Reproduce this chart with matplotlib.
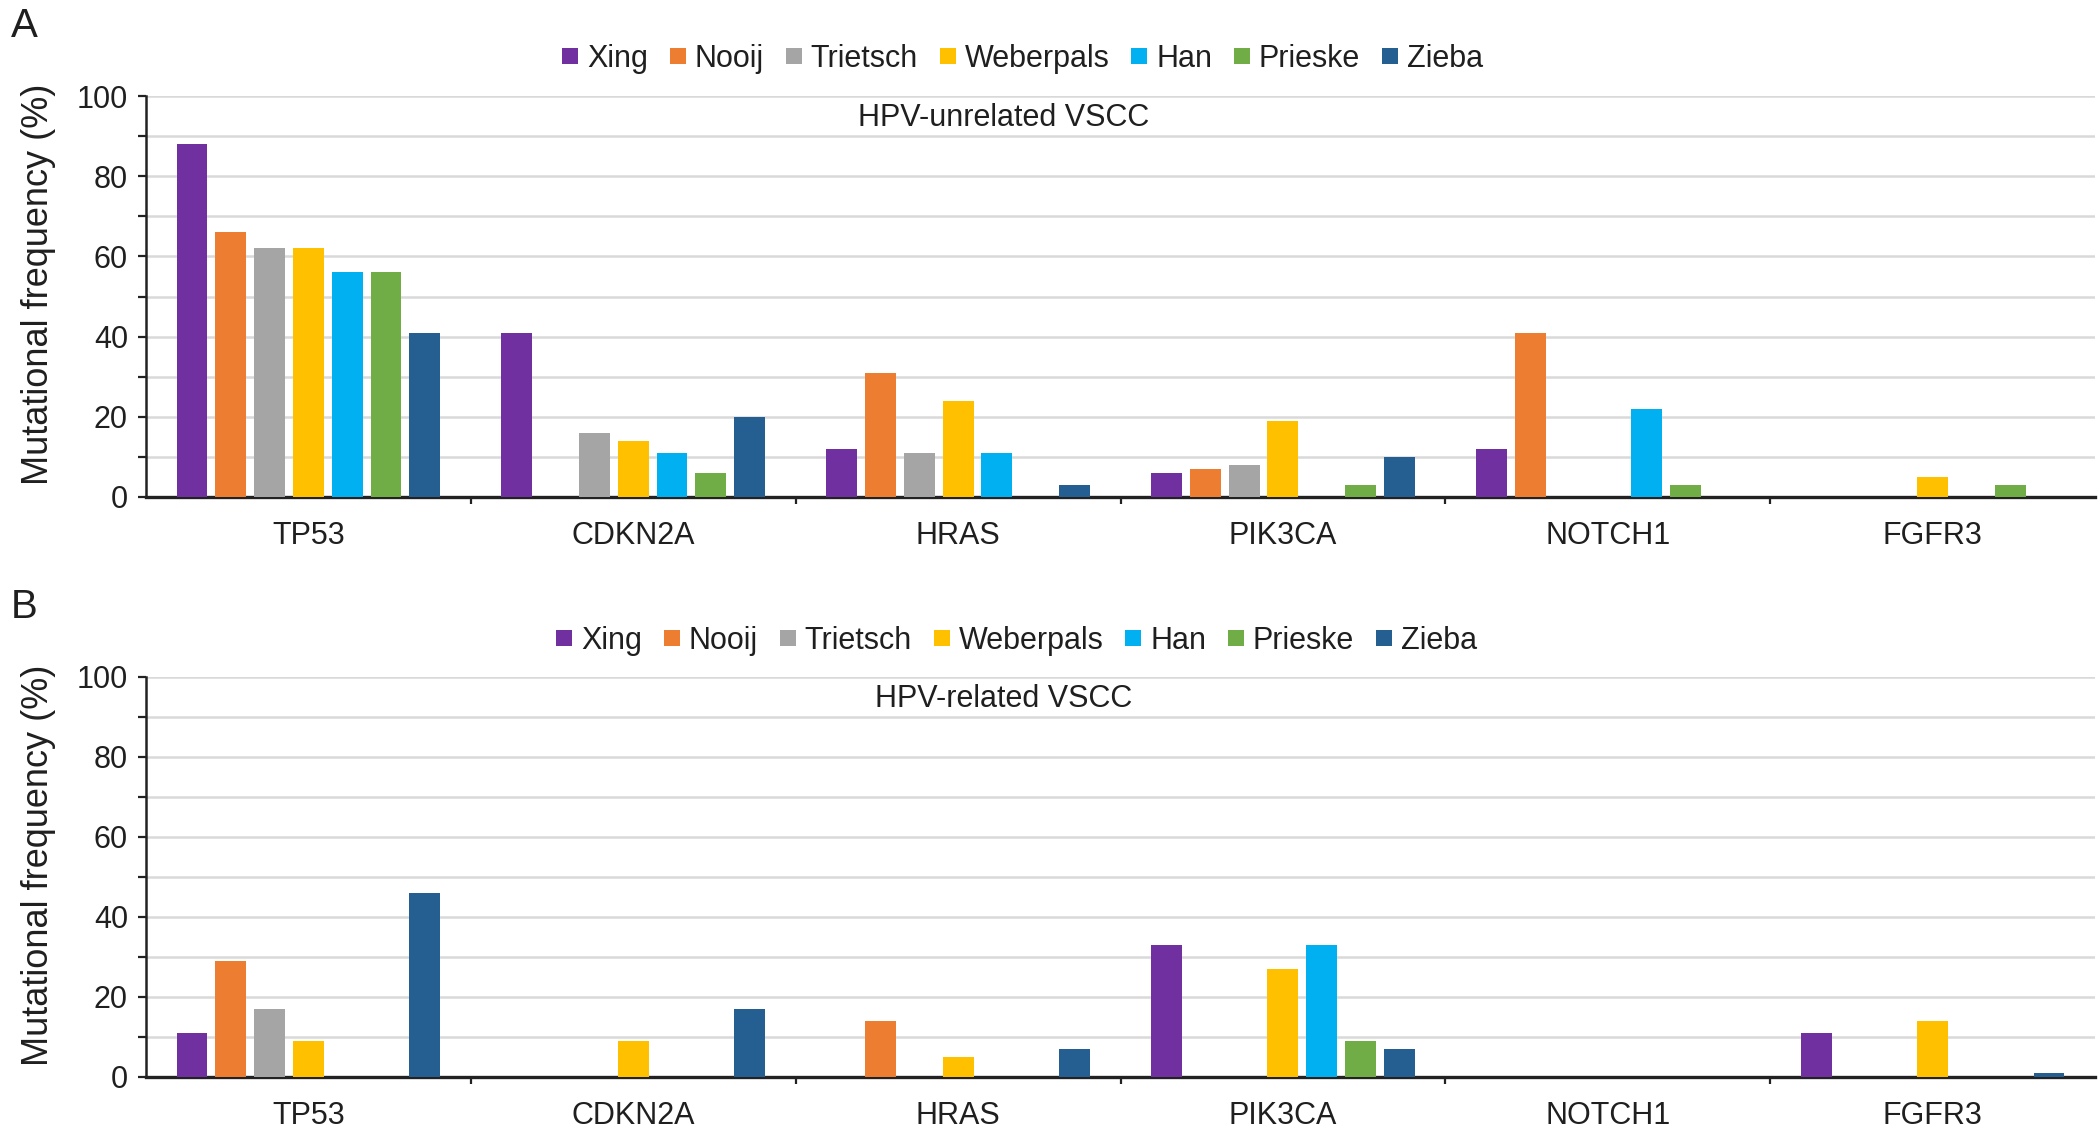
import matplotlib
matplotlib.use("Agg")
import matplotlib.pyplot as plt
from matplotlib.lines import Line2D
import numpy as np

plt.rcParams['font.family'] = ['Liberation Sans', 'DejaVu Sans']

genes = ["TP53", "CDKN2A", "HRAS", "PIK3CA", "NOTCH1", "FGFR3"]
studies = ["Xing", "Nooij", "Trietsch", "Weberpals", "Han", "Prieske", "Zieba"]
colors = ["#7030A0", "#ED7D31", "#A5A5A5", "#FFC000", "#00B0F0", "#70AD47", "#255E91"]

# Panel A: HPV-unrelated VSCC (one list per study, values per gene)
xing_a      = [88, 41, 12, 6, 12, 0]
nooij_a     = [66, 0, 31, 7, 41, 0]
trietsch_a  = [62, 16, 11, 8, 0, 0]
weberpals_a = [62, 14, 24, 19, 0, 5]
han_a       = [56, 11, 11, 0, 22, 0]
prieske_a   = [56, 6, 0, 3, 3, 3]
zieba_a     = [41, 20, 3, 10, 0, 0]

# Panel B: HPV-related VSCC
xing_b      = [11, 0, 0, 33, 0, 11]
nooij_b     = [29, 0, 14, 0, 0, 0]
trietsch_b  = [17, 0, 0, 0, 0, 0]
weberpals_b = [9, 9, 5, 27, 0, 14]
han_b       = [0, 0, 0, 33, 0, 0]
prieske_b   = [0, 0, 0, 9, 0, 0]
zieba_b     = [46, 17, 7, 7, 0, 1]

data_a = [xing_a, nooij_a, trietsch_a, weberpals_a, han_a, prieske_a, zieba_a]
data_b = [xing_b, nooij_b, trietsch_b, weberpals_b, han_b, prieske_b, zieba_b]

W, H = 2100, 1135
fig = plt.figure(figsize=(W / 100, H / 100), dpi=100)

txt_color = "#1f1f1f"
FS = 22


def draw_panel(rect, data, title, letter, letter_xy, legend_xy):
    ax = fig.add_axes(rect)
    x = np.arange(len(genes))
    step = 0.1195
    bw = 0.095
    for i, (vals, c, name) in enumerate(zip(data, colors, studies)):
        ax.bar(x + (i - 3) * step, vals, width=bw, color=c, zorder=3, label=name)
    ax.set_xlim(-0.5, len(genes) - 0.5)
    ax.set_ylim(0, 100)
    ax.set_yticks(np.arange(0, 101, 20))
    ax.set_yticks(np.arange(10, 100, 20), minor=True)
    ax.yaxis.grid(True, which='both', color="#D9D9D9", linewidth=1.8, zorder=0)
    ax.set_axisbelow(True)
    ax.tick_params(axis='y', which='both', direction='out', length=6, width=1.6,
                   color='#222222', labelsize=FS, labelcolor=txt_color, pad=7)
    # x: boundary ticks as major (no labels), gene labels as minor (no tick)
    ax.set_xticks(np.arange(0.5, len(genes) - 0.5, 1.0))
    ax.set_xticklabels([])
    ax.set_xticks(x, minor=True)
    ax.set_xticklabels(genes, minor=True)
    ax.tick_params(axis='x', which='major', direction='out', length=5, width=1.6, color='#222222')
    ax.tick_params(axis='x', which='minor', length=0, labelsize=FS, labelcolor=txt_color, pad=17)
    for s in ['top', 'right']:
        ax.spines[s].set_visible(False)
    ax.spines['left'].set_linewidth(1.8)
    ax.spines['left'].set_color('#222222')
    ax.spines['bottom'].set_linewidth(2.4)
    ax.spines['bottom'].set_color('#222222')
    ax.set_ylabel("Mutational frequency (%)", fontsize=26, color=txt_color)
    ax.yaxis.set_label_coords(-0.046, 0.53)
    ax.text(0.44, 0.945, title, transform=ax.transAxes, ha='center', va='center',
            fontsize=FS, color=txt_color)
    fig.text(letter_xy[0], letter_xy[1], letter, fontsize=29, color=txt_color,
             ha='center', va='center')
    handles = [Line2D([], [], marker='s', linestyle='', markersize=12, color=c,
                      markeredgewidth=0) for c in colors]
    fig.legend(handles, studies, loc='center', bbox_to_anchor=legend_xy,
               bbox_transform=fig.transFigure, ncol=7, frameon=False,
               fontsize=FS, handlelength=0.6, handletextpad=0.25,
               columnspacing=0.68, labelcolor=txt_color, borderpad=0)
    return ax


draw_panel([146 / W, 1 - 497 / H, 1949 / W, 401 / H], data_a, "HPV-unrelated VSCC", "A",
           (24 / W, 1 - 26 / H), (1022 / W, 1 - 59 / H))
draw_panel([146 / W, 1 - 1077 / H, 1949 / W, 400 / H], data_b, "HPV-related VSCC", "B",
           (24 / W, 1 - 607 / H), (1016 / W, 1 - 641 / H))

fig.savefig("out.png", dpi=100, facecolor='white')
